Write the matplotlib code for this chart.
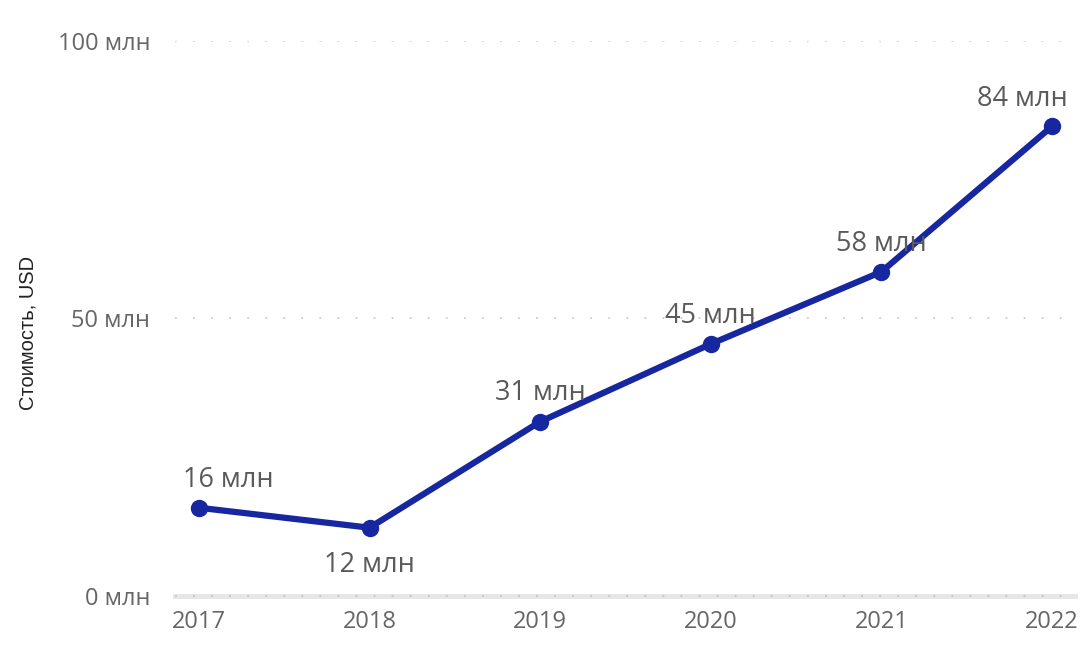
import matplotlib.pyplot as plt

years = [2017, 2018, 2019, 2020, 2021, 2022]
values = [15.9, 12.3, 31.4, 45.4, 58.4, 84.6]
labels = ["16 млн", "12 млн", "31 млн", "45 млн", "58 млн", "84 млн"]
yticks = [0, 50, 100]
ytick_labels = ["0 млн", "50 млн", "100 млн"]

plt.rcParams['font.family'] = ['Open Sans', 'DejaVu Sans']

fig = plt.figure(figsize=(10.83, 6.6), dpi=100)
ax = fig.add_axes([0.1616, 0.097, 0.8310, 0.841])

line_color = "#1727a0"
ax.plot(years, values, color=line_color, lw=4.5, marker="o", markersize=11.5,
        solid_capstyle="round", zorder=3)

# data labels: offsets in points (dx, dy)
offsets = [(21, 20), (0, -27), (0, 21), (0, 20), (0, 20), (-21, 20)]
for x, v, lab, (dx, dy) in zip(years, values, labels, offsets):
    ax.annotate(lab, (x, v), xytext=(dx, dy), textcoords="offset points",
                ha="center", va="center", fontsize=19.5, color="#5a5a5a",
                zorder=4)

ax.set_xlim(2017 - 0.14, 2022 + 0.135)
ax.set_ylim(0, 100)
ax.set_xticks(years)
ax.set_xticklabels([str(y) for y in years])
ax.set_yticks(yticks)
ax.set_yticklabels(ytick_labels)

# gridlines
for y in yticks[1:]:
    ax.axhline(y, color="#cccccc", lw=1.3, linestyle=(0, (1, 9)), zorder=1)
ax.axhline(0, color="#e6e6e6", lw=3.5, zorder=1, clip_on=False)
ax.axhline(0, color="#c4c4c4", lw=1.3, linestyle=(0, (1, 9)), zorder=1, clip_on=False)

for s in ax.spines.values():
    s.set_visible(False)
ax.tick_params(axis="both", length=0, labelsize=17, labelcolor="#666666")
ax.tick_params(axis="y", pad=18)
ax.tick_params(axis="x", pad=10)

ax.set_ylabel("Стоимость, USD", fontsize=14.5, color="#222222",
              family=["Liberation Sans", "DejaVu Sans"])
ax.yaxis.set_label_coords(-0.153, 0.474)

fig.savefig("out.png", dpi=100)
